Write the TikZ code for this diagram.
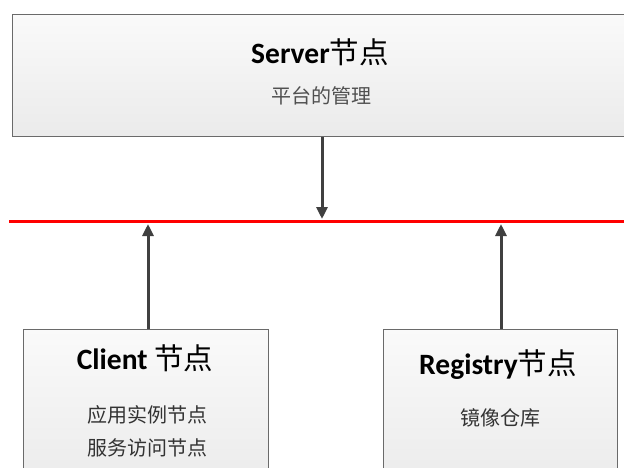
\documentclass[tikz,border=0pt]{standalone}
\usepackage{fontspec}
\setmainfont{Carlito}
\newfontfamily\cjk{Noto Sans CJK SC}
\usetikzlibrary{arrows.meta}
\definecolor{boxline}{HTML}{6A6A6A}
\definecolor{arrowgray}{HTML}{404040}
\definecolor{subgray}{HTML}{505050}
\tikzset{
  panel/.style={draw=boxline, line width=1.2pt, top color=white!98!black,
    bottom color=white!92!black, inner sep=0pt, anchor=north west},
  titletext/.style={font=\fontsize{29.5}{34}\selectfont, text=black, inner sep=0pt},
  subtext/.style={font=\cjk\fontsize{20}{24}\selectfont, text=subgray, inner sep=0pt},
  flow/.style={draw=arrowgray, line width=3pt,
    -{Triangle[length=12pt, width=11pt]}, shorten >=0pt},
  bus/.style={draw=red, line width=3pt}
}
\begin{document}
\begin{tikzpicture}[x=1pt, y=-1pt]
  \useasboundingbox (0,0) rectangle (624,468);
  \clip (0,0) rectangle (624,468);

  % Server panel
  \node[panel, minimum width=630pt, minimum height=122pt] (server) at (12,14) {};
  \node[titletext] (servertitle) at (320,52) {\textbf{Server}{\cjk 节点}};
  \node[subtext] (serversub) at (321,96) {平台的管理};

  % Client panel
  \node[panel, minimum width=245pt, minimum height=160pt] (client) at (23,329) {};
  \node[titletext] (clienttitle) at (145,358) {\textbf{Client} {\cjk 节点}};
  \node[subtext, text=black!80] (clientsub1) at (147,415) {应用实例节点};
  \node[subtext, text=black!80] (clientsub2) at (147,448) {服务访问节点};

  % Registry panel
  \node[panel, minimum width=234pt, minimum height=160pt] (registry) at (383,329) {};
  \node[titletext] (registrytitle) at (498,365) {\textbf{Registry}{\cjk 节点}};
  \node[subtext, text=black!80] (registrysub) at (500,418) {镜像仓库};

  % Shared bus
  \coordinate (busL) at (9,221);
  \coordinate (busR) at (630,221);
  \draw[bus] (busL) -- (busR);

  % Taps on the bus
  \coordinate (tapS) at (322,219);
  \coordinate (tapC) at (148,224);
  \coordinate (tapR) at (501,224);

  \draw[flow] (server.south -| tapS) -- (tapS);
  \draw[flow] (client.north -| tapC) -- (tapC);
  \draw[flow] (registry.north -| tapR) -- (tapR);
\end{tikzpicture}
\end{document}
